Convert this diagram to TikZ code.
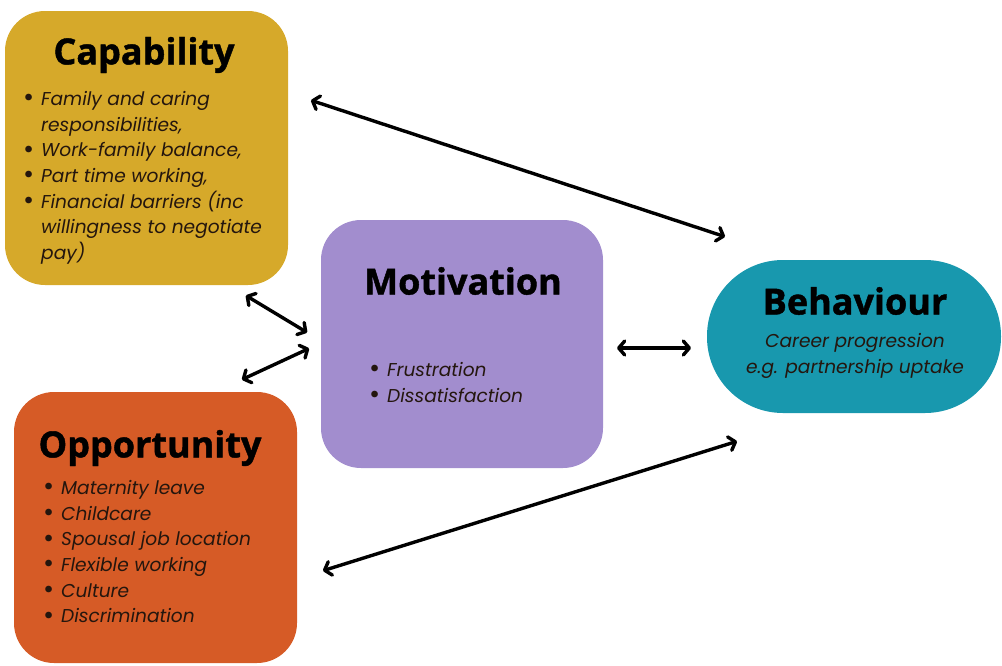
\documentclass[tikz,border=0pt]{standalone}
\usepackage{fontspec}
\usetikzlibrary{arrows.meta}
\setmainfont{Poppins}
\newfontfamily\titlefont{Open Sans}[FakeBold=1.2]
\newfontfamily\itemfont{Poppins}
\definecolor{capcol}{HTML}{D6A92A}
\definecolor{oppcol}{HTML}{D65B26}
\definecolor{motcol}{HTML}{A28DCE}
\definecolor{behcol}{HTML}{1898AE}
\definecolor{itemtxt}{HTML}{24160E}
\tikzset{
  box/.style={rounded corners=40pt, inner sep=0pt, draw=none},
  ttl/.style={font=\titlefont\bfseries\fontsize{36}{40}\selectfont, text=black, inner sep=0pt},
  items/.style={font=\itemfont\itshape\fontsize{18.6}{25.7}\selectfont, text=itemtxt, align=left, inner sep=0pt, anchor=north west},
  tip/.style={Straight Barb[length=6pt,width=14pt,line cap=round,line join=round]},
  link/.style={line width=3.4pt, {Straight Barb[length=6pt,width=14pt,line cap=round,line join=round]}-{Straight Barb[length=6pt,width=14pt,line cap=round,line join=round]}, shorten <=1pt, shorten >=1pt}
}
\newcommand{\bul}{\makebox[18pt][l]{\upshape\raisebox{-1.5pt}{\scalebox{1.45}{\textbullet}}}}
\newcommand{\nob}{\hspace*{18pt}}
\begin{document}
\begin{tikzpicture}[x=1pt,y=-1pt]
\useasboundingbox (0,0) rectangle (1002,665);
% boxes
\node[box, fill=capcol, minimum width=283pt, minimum height=274pt] (cap) at (146.5,148) {};
\node[box, fill=oppcol, minimum width=283pt, minimum height=271pt] (opp) at (155.5,527.5) {};
\node[box, fill=motcol, minimum width=282pt, minimum height=248pt] (mot) at (462,344) {};
\node[box, rounded corners=76pt, fill=behcol, minimum width=294pt, minimum height=153pt] (beh) at (854,336.5) {};
% titles
\node[ttl] (capt) at (144,55) {Capability};
\node[ttl] (oppt) at (150,448) {Opportunity};
\node[ttl] (mott) at (463,281) {Motivation};
\node[ttl] (beht) at (855,301) {Behaviour};
% items
\node[items] (capi) at (23,91) {\bul Family and caring\\ \nob responsibilities,\\ \bul Work-family balance,\\ \bul Part time working,\\ \bul Financial barriers (inc\\ \nob willingness to negotiate\\ \nob pay)};
\node[items] (oppi) at (43,480) {\bul Maternity leave\\ \bul Childcare\\ \bul Spousal job location\\ \bul Flexible working\\ \bul Culture\\ \bul Discrimination};
\node[items] (moti) at (369,362) {\bul Frustration\\ \bul Dissatisfaction};
\node[items, anchor=north, align=center] (behi) at (855,333) {Career progression\\ e.g. partnership uptake};
% connector ends
\coordinate (a1) at (310,100);
\coordinate (b1) at (726,237);
\coordinate (a2) at (245,295);
\coordinate (b2) at (308,333);
\coordinate (a3) at (241,380);
\coordinate (b3) at (310,348);
\coordinate (a4) at (616,348);
\coordinate (b4) at (692,348);
\coordinate (a5) at (322,571);
\coordinate (b5) at (738,441);
\draw[link] (a1) -- (b1);
\draw[link] (a2) -- (b2);
\draw[link] (a3) -- (b3);
\draw[link] (a4) -- (b4);
\draw[link] (a5) -- (b5);
\end{tikzpicture}
\end{document}
